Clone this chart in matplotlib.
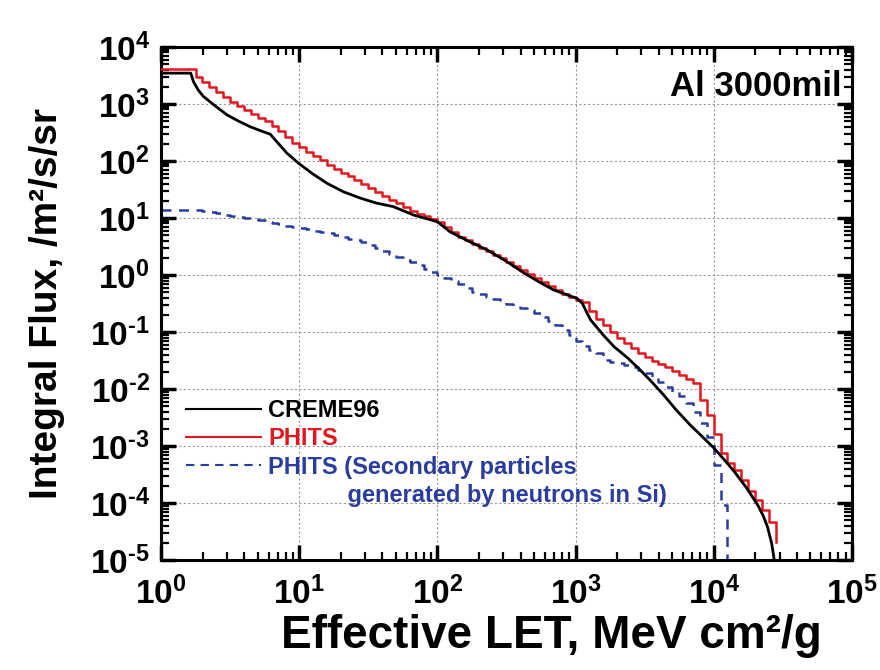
import numpy as np
import matplotlib
matplotlib.use("Agg")
import matplotlib.pyplot as plt
from matplotlib.lines import Line2D
from matplotlib.ticker import LogLocator, FuncFormatter, NullFormatter

plt.rcParams['font.family'] = ['Liberation Sans', 'DejaVu Sans']
plt.rcParams['font.weight'] = 'bold'
plt.rcParams['mathtext.fontset'] = 'custom'
plt.rcParams['mathtext.rm'] = 'Liberation Sans:bold'
plt.rcParams['mathtext.bf'] = 'Liberation Sans:bold'
plt.rcParams['mathtext.it'] = 'Liberation Sans:bold'

# CREME96: log10(LET) / log10(flux)
creme_log_let = [0.00, 0.215, 0.235, 0.27, 0.307, 0.40, 0.476, 0.56, 0.645, 0.72,
                 0.79, 0.826, 0.87, 0.91, 0.995, 1.10, 1.20, 1.32, 1.44, 1.56,
                 1.68, 1.83, 2.00, 2.09, 2.22, 2.36, 2.50, 2.63, 2.75, 2.84,
                 2.93, 3.01, 3.05, 3.08, 3.11, 3.20, 3.28, 3.38, 3.47, 3.55,
                 3.64, 3.73, 3.83, 3.92, 4.00, 4.08, 4.15, 4.24, 4.32, 4.36,
                 4.39, 4.42, 4.44, 4.45]
creme_log_flux = [3.54, 3.54, 3.39, 3.24, 3.13, 2.95, 2.81, 2.70, 2.60, 2.53,
                  2.47, 2.37, 2.25, 2.14, 1.96, 1.77, 1.61, 1.46, 1.35, 1.26,
                  1.20, 1.05, 0.935, 0.76, 0.60, 0.44, 0.24, 0.03, -0.14, -0.26,
                  -0.34, -0.41, -0.50, -0.65, -0.79, -1.05, -1.26, -1.46, -1.67, -1.87,
                  -2.11, -2.37, -2.63, -2.84, -3.03, -3.25, -3.45, -3.74, -4.04, -4.23,
                  -4.42, -4.71, -5.02, -5.3]

# PHITS histograms, 20 bins per decade starting at LET = 1
phits_log_flux = [3.61, 3.61, 3.61, 3.61, 3.61, 3.48, 3.39, 3.30, 3.21, 3.12,
                  3.04, 2.97, 2.90, 2.83, 2.76, 2.70, 2.62, 2.52, 2.42, 2.32,
                  2.24, 2.16, 2.08, 2.01, 1.93, 1.86, 1.79, 1.73, 1.66, 1.60,
                  1.53, 1.46, 1.39, 1.32, 1.26, 1.20, 1.12, 1.07, 1.03, 0.98,
                  0.93, 0.85, 0.76, 0.67, 0.61, 0.55, 0.48, 0.42, 0.35, 0.29,
                  0.22, 0.15, 0.08, 0.01, -0.06, -0.13, -0.20, -0.27, -0.33, -0.38,
                  -0.43, -0.48, -0.63, -0.78, -0.88, -1.00, -1.10, -1.19, -1.28, -1.37,
                  -1.44, -1.50, -1.56, -1.61, -1.68, -1.75, -1.82, -1.90, -2.19, -2.46,
                  -2.78, -3.13, -3.30, -3.42, -3.60, -3.78, -3.95, -4.12, -4.33, -4.68]
secondary_log_flux = [1.14, 1.14, 1.14, 1.14, 1.14, 1.14, 1.12, 1.10, 1.08, 1.06,
                      1.04, 1.02, 1.00, 0.98, 0.96, 0.93, 0.91, 0.89, 0.86, 0.84,
                      0.82, 0.80, 0.78, 0.75, 0.73, 0.70, 0.67, 0.64, 0.61, 0.57,
                      0.53, 0.48, 0.42, 0.36, 0.31, 0.27, 0.22, 0.17, 0.11, 0.05,
                      0.00, -0.05, -0.11, -0.16, -0.23, -0.29, -0.33, -0.38, -0.42, -0.46,
                      -0.50, -0.54, -0.58, -0.62, -0.67, -0.73, -0.80, -0.88, -0.97, -1.06,
                      -1.16, -1.24, -1.31, -1.37, -1.49, -1.52, -1.55, -1.58, -1.61, -1.66,
                      -1.72, -1.80, -1.88, -1.97, -2.05, -2.12, -2.25, -2.40, -2.60, -2.84,
                      -3.33, -4.04, -6.0]

labels = ['CREME96', 'PHITS', 'PHITS (Secondary particles',
          '            generated by neutrons in Si)']
colors = ['black', '#e3171f', '#2a3d9e', '#2a3d9e']

fig = plt.figure(figsize=(8.8, 6.7), dpi=100)
ax = fig.add_axes([0.183, 0.164, 0.785, 0.766])

bin_w = 0.05
phits_let = 10 ** (np.arange(len(phits_log_flux)) * bin_w)
sec_let = 10 ** (np.arange(len(secondary_log_flux)) * bin_w)

ax.plot(10 ** np.array(creme_log_let), 10 ** np.array(creme_log_flux),
        color='black', lw=2.0, zorder=4)
ax.step(phits_let, 10 ** np.array(phits_log_flux), where='post',
        color=colors[1], lw=1.8, zorder=3)
ax.step(sec_let, 10 ** np.array(secondary_log_flux), where='post',
        color=colors[2], lw=1.8, ls=(0, (4, 3)), zorder=2)

ax.set_xscale('log')
ax.set_yscale('log')
ax.set_xlim(1, 1e5)
ax.set_ylim(1e-5, 1e4)


def pow_label(v, pos):
    e = int(round(np.log10(v)))
    if e < 0:
        return r'$10^{\text{-}%d}$' % (-e)
    return r'$10^{%d}$' % e


fmt = FuncFormatter(pow_label)
ax.xaxis.set_major_locator(LogLocator(base=10, numticks=20))
ax.yaxis.set_major_locator(LogLocator(base=10, numticks=20))
ax.xaxis.set_minor_locator(LogLocator(base=10, subs=np.arange(2, 10), numticks=20))
ax.yaxis.set_minor_locator(LogLocator(base=10, subs=np.arange(2, 10), numticks=20))
ax.xaxis.set_major_formatter(fmt)
ax.yaxis.set_major_formatter(fmt)
ax.xaxis.set_minor_formatter(NullFormatter())
ax.yaxis.set_minor_formatter(NullFormatter())

ax.tick_params(which='both', direction='in', top=True, right=True)
ax.tick_params(which='major', length=11, width=2.5, labelsize=24)
ax.tick_params(which='minor', length=6, width=1.6)
ax.tick_params(axis='x', which='major', pad=12)
ax.tick_params(axis='y', which='major', pad=8)
for s in ax.spines.values():
    s.set_linewidth(2.2)

ax.grid(True, which='major', ls=(0, (2, 2)), lw=0.8, color='#9a9a9a')

ax.set_xlabel('Effective LET, MeV cm²/g', fontsize=33, fontweight='bold')
ax.xaxis.set_label_coords(0.565, -0.105)
ax.set_ylabel('Integral Flux, /m²/s/sr', fontsize=28, fontweight='bold', labelpad=18)

ax.text(0.985, 0.955, 'Al 3000mil', transform=ax.transAxes, ha='right', va='top',
        fontsize=25, fontweight='bold')

handles = [Line2D([0], [0], color='black', lw=1.5),
           Line2D([0], [0], color=colors[1], lw=1.5),
           Line2D([0], [0], color=colors[2], lw=1.5, ls=(0, (4, 3))),
           Line2D([0], [0], color='none')]
leg = ax.legend(handles, labels, loc='upper left', bbox_to_anchor=(0.005, 0.355),
                frameon=False, handlelength=3.2, handletextpad=0.3,
                labelspacing=0.22, labelcolor=colors,
                prop={'weight': 'bold', 'size': 17})

fig.savefig('out.png', dpi=100)
